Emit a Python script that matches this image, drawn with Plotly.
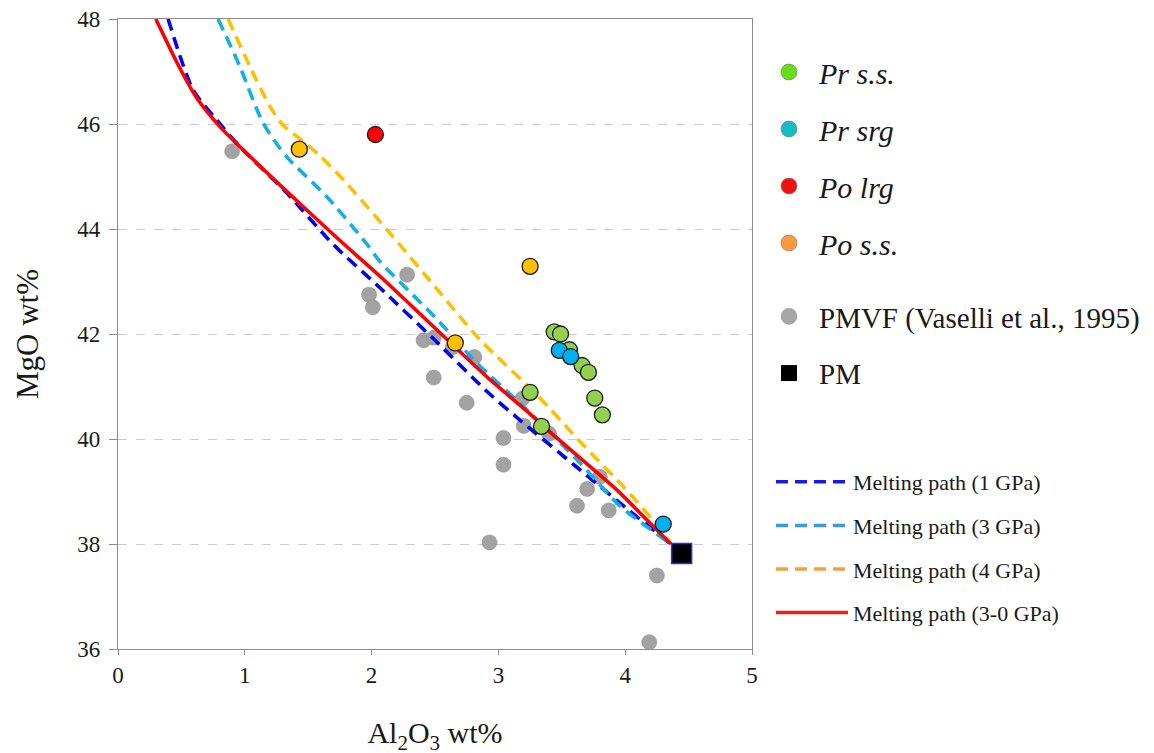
import plotly.graph_objects as go

# ---------------- data ----------------
pmvf_x = [0.90, 2.28, 1.98, 2.01, 2.41, 2.49, 2.64, 2.81, 2.49, 2.75, 3.19, 3.20,
          3.40, 3.04, 3.04, 3.80, 3.70, 3.62, 3.87, 2.93, 4.25, 4.19]
pmvf_y = [45.48, 43.13, 42.75, 42.51, 41.88, 41.93, 41.75, 41.56, 41.17, 40.69, 40.77, 40.25,
          40.10, 40.02, 39.51, 39.28, 39.05, 38.73, 38.64, 38.03, 37.40, 36.13]

pr_ss_x = [3.44, 3.49, 3.56, 3.66, 3.71, 3.76, 3.82, 3.25, 3.34]
pr_ss_y = [42.04, 42.00, 41.70, 41.40, 41.27, 40.78, 40.46, 40.89, 40.24]

pr_srg_x = [3.48, 3.57, 4.30]
pr_srg_y = [41.69, 41.57, 38.38]

po_lrg_x = [2.03]
po_lrg_y = [45.80]

po_ss_x = [1.43, 3.25, 2.66]
po_ss_y = [45.52, 43.29, 41.83]

pm_x = [4.445]
pm_y = [37.82]

path1_x = [0.395, 0.592, 0.777, 0.96, 1.33, 1.70, 2.066, 2.50, 2.908, 3.17, 3.60, 4.00, 4.36]
path1_y = [48.0, 46.65, 46.08, 45.57, 44.69, 43.70, 42.88, 41.88, 40.91, 40.36, 39.50, 38.70, 38.00]

path3_x = [0.789, 0.96, 1.144, 1.329, 1.645, 1.96, 2.066, 2.50, 2.829, 3.197, 3.618, 3.96, 4.17, 4.36]
path3_y = [48.0, 47.10, 46.02, 45.38, 44.62, 43.72, 43.38, 42.32, 41.45, 40.62, 39.61, 38.72, 38.33, 38.00]

path4_x = [0.868, 1.039, 1.197, 1.30, 1.434, 1.59, 1.776, 2.17, 2.50, 2.855, 3.30, 3.644, 4.04, 4.30, 4.36]
path4_y = [48.0, 47.10, 46.34, 45.98, 45.72, 45.40, 44.94, 43.85, 42.90, 41.89, 40.85, 39.95, 38.95, 38.21, 38.00]

path30_x = [0.298, 0.48, 0.62, 0.803, 0.96, 1.276, 1.75, 2.066, 2.655, 2.934, 3.249, 3.46, 3.934, 4.17, 4.36]
path30_y = [48.0, 47.10, 46.50, 45.95, 45.57, 44.84, 43.78, 43.10, 41.76, 41.13, 40.48, 40.02, 39.03, 38.46, 38.00]

x_ticks = [0, 1, 2, 3, 4, 5]
y_ticks = [36, 38, 40, 42, 44, 46, 48]

SERIF = "Liberation Serif, Times New Roman, serif"

fig = go.Figure()

# PMVF grey points (drawn first, under the paths)
fig.add_trace(go.Scatter(x=pmvf_x, y=pmvf_y, mode="markers", showlegend=False,
                         marker=dict(size=15, color="#a3a3a3", line=dict(width=0.6, color="#8f8f8f"))))

# melting paths
paths = [
    (path1_x, path1_y, "#0000ff", "12px,7px"),
    (path3_x, path3_y, "#14aee8", "12px,7px"),
    (path4_x, path4_y, "#ffc000", "12px,7px"),
    (path30_x, path30_y, "#ff0000", "solid"),
]
for px_, py_, col, dash in paths:
    fig.add_trace(go.Scatter(x=px_, y=py_, mode="lines", showlegend=False,
                             line=dict(color=col, width=3.6, dash=dash, shape="spline", smoothing=0.7)))

# sample groups
edge = dict(width=1.3, color="#1c1c1c")
fig.add_trace(go.Scatter(x=pr_ss_x, y=pr_ss_y, mode="markers", showlegend=False,
                         marker=dict(size=16, color="#92d050", line=edge)))
fig.add_trace(go.Scatter(x=pr_srg_x, y=pr_srg_y, mode="markers", showlegend=False,
                         marker=dict(size=16, color="#00b0f0", line=edge)))
fig.add_trace(go.Scatter(x=po_lrg_x, y=po_lrg_y, mode="markers", showlegend=False,
                         marker=dict(size=16, color="#ff0000", line=edge)))
fig.add_trace(go.Scatter(x=po_ss_x, y=po_ss_y, mode="markers", showlegend=False,
                         marker=dict(size=16, color="#ffc000", line=edge)))
fig.add_trace(go.Scatter(x=pm_x, y=pm_y, mode="markers", showlegend=False,
                         marker=dict(size=20, symbol="square", color="#000000",
                                     line=dict(width=1.5, color="#2b2bff"))))

# ---------------- legend entries ----------------
leg1 = [("<i>Pr s.s.</i>", "#66dd1a"), ("<i>Pr srg</i>", "#17bcc4"),
        ("<i>Po lrg</i>", "#ee1111"), ("<i>Po s.s.</i>", "#ff9a3c")]
for i, (nm, col) in enumerate(leg1):
    fig.add_trace(go.Scatter(x=[None], y=[None], mode="markers", name=nm, legend="legend",
                             legendgroup="a%d" % i,
                             marker=dict(size=16, color=col, line=dict(width=0.6, color="#777"))))
fig.add_trace(go.Scatter(x=[None], y=[None], mode="markers", name="PMVF (Vaselli et al., 1995)",
                         legend="legend2", legendgroup="b0",
                         marker=dict(size=16, color="#a6a6a6", line=dict(width=0.6, color="#999"))))
fig.add_trace(go.Scatter(x=[None], y=[None], mode="markers", name="PM",
                         legend="legend2", legendgroup="b1",
                         marker=dict(size=16, symbol="square", color="#000000")))
leg3 = [("Melting path (1 GPa)", "#1a1ae6", "12px,7px"),
        ("Melting path (3 GPa)", "#3a9ae8", "12px,7px"),
        ("Melting path (4 GPa)", "#f5a040", "12px,7px"),
        ("Melting path (3-0 GPa)", "#e82020", "solid")]
for i, (nm, col, dash) in enumerate(leg3):
    fig.add_trace(go.Scatter(x=[None], y=[None], mode="lines", name=nm, legend="legend3",
                             legendgroup="c%d" % i, line=dict(color=col, width=3.5, dash=dash)))

W, H = 1154, 753
def cy(px):
    return 1 - px / H

# the page body adds an 8 px offset; plot area in the screenshot spans x 118-752, y 19-649
fig.update_layout(
    width=W, height=H,
    margin=dict(l=110, r=410, t=11, b=112, autoexpand=False),
    paper_bgcolor="white", plot_bgcolor="white",
    font=dict(family=SERIF, color="#1a1a1a"),
    xaxis=dict(range=[0, 5], tickvals=x_ticks, ticks="outside", ticklen=5, tickcolor="#8c8c8c",
               showline=True, linecolor="#8c8c8c", linewidth=1.2, mirror=True,
               showgrid=False, zeroline=False, tickfont=dict(size=23, family=SERIF),
               ticklabelstandoff=0, automargin=False, ticklabeloverflow="allow",
               title=dict(text="Al<sub>2</sub>O<sub>3</sub> wt%", font=dict(size=30, family=SERIF),
                          standoff=35)),
    yaxis=dict(range=[36, 48], tickvals=y_ticks, ticks="outside", ticklen=8, tickcolor="#8c8c8c",
               showline=True, linecolor="#8c8c8c", linewidth=1.2, mirror=True,
               showgrid=True, gridcolor="#cccccc", griddash="dash", gridwidth=1,
               zeroline=False, tickfont=dict(size=23, family=SERIF), ticklabelstandoff=4,
               automargin=False, ticklabeloverflow="allow",
               title=dict(text="MgO wt%", font=dict(size=31, family=SERIF), standoff=29)),
    legend=dict(xref="container", yref="container", x=751 / W, y=cy(38), xanchor="left", yanchor="top",
                font=dict(size=30, family=SERIF, color="#1a1a1a"), itemwidth=50,
                traceorder="grouped", tracegroupgap=15, bgcolor="rgba(0,0,0,0)"),
    legend2=dict(xref="container", yref="container", x=751 / W, y=cy(283), xanchor="left", yanchor="top",
                 font=dict(size=29, family=SERIF, color="#1a1a1a"), itemwidth=50,
                 traceorder="grouped", tracegroupgap=16, bgcolor="rgba(0,0,0,0)"),
    legend3=dict(xref="container", yref="container", x=763 / W, y=cy(453), xanchor="left", yanchor="top",
                 font=dict(size=22, family=SERIF, color="#1a1a1a"), itemwidth=72,
                 traceorder="grouped", tracegroupgap=12, bgcolor="rgba(0,0,0,0)"),
)

fig.write_html("out.html")
